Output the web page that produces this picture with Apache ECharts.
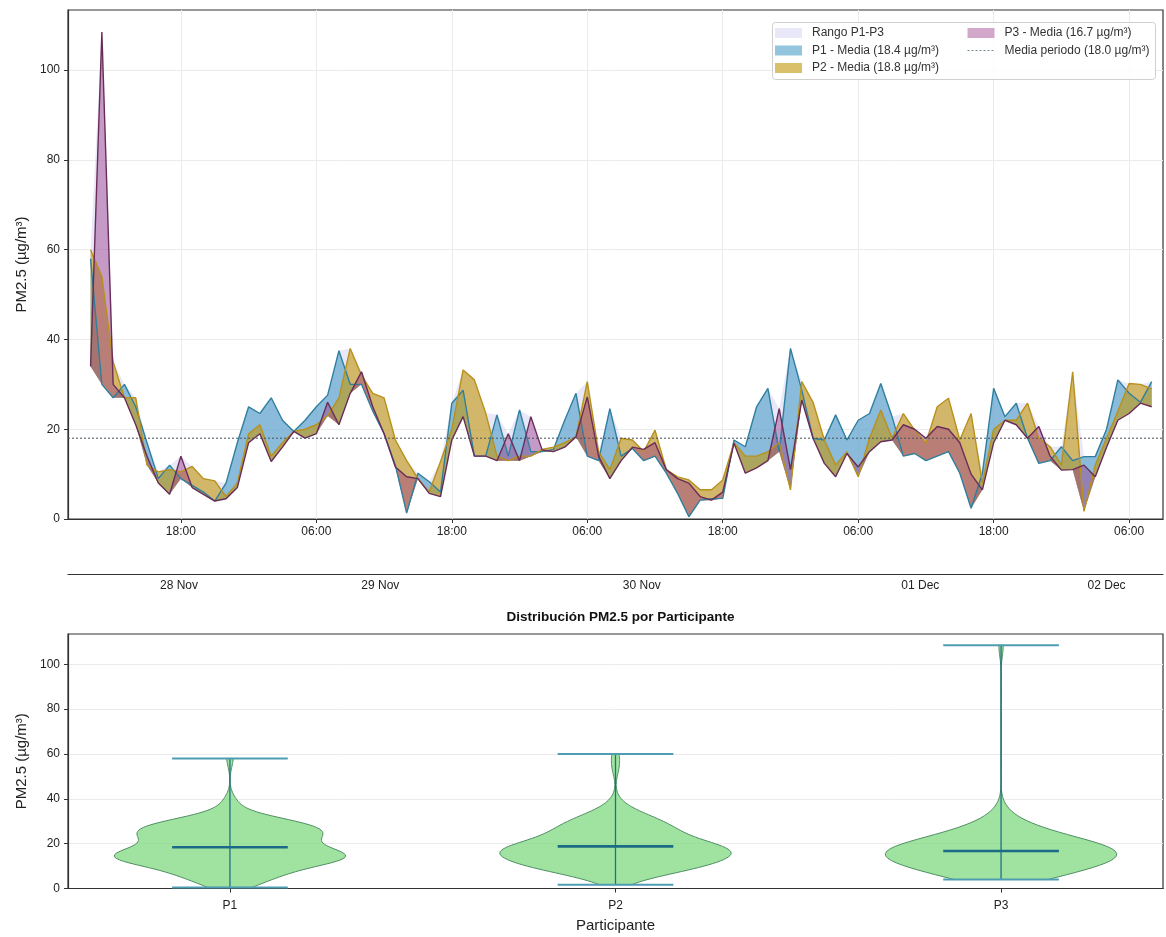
<!DOCTYPE html>
<html>
<head>
<meta charset="utf-8">
<script src="https://cdn.jsdelivr.net/npm/echarts@6/dist/echarts.min.js"></script>
<style>
  html, body { margin: 0; padding: 0; background: #ffffff; }
  #chart { width: 1166px; height: 937px; }
</style>
</head>
<body>
<div id="chart"></div>
<script>
// Hourly PM2.5 readings of three participants, 28 Nov 10:00 to 02 Dec 08:00
const sampleStart = '2024-11-28 10:00';
const sampleStepHours = 1;

const p1Values = [
  58, 30, 27, 30, 25, 17, 9, 12, 9, 7.5,
  6, 4, 8, 17, 25, 23.5, 27, 22, 19.5, 22,
  25, 27.6, 37.5, 30, 30, 24, 19, 12, 1.3, 10.2,
  8.3, 6, 25.8, 28.7, 14, 14, 23.2, 14, 24.3, 15,
  15, 15.5, 22, 28, 14, 13, 24.6, 14, 15.7, 13,
  14, 10.2, 5.7, 0.5, 4.2, 4.5, 4.6, 17.6, 16.1, 25,
  29.1, 15, 38, 28.7, 18, 17.6, 23.2, 17.6, 22, 23.5,
  30.2, 22.8, 14, 14.6, 13, 14, 15, 10.2, 2.4, 10.2,
  29.1, 22.8, 25.8, 18, 12.4, 13, 16.1, 13, 13.9, 13.9,
  20, 31, 28, 26, 30.6
];
const p2Values = [
  60, 54, 35, 27, 27, 12, 10.5, 11, 10.5, 11.7,
  9, 8.5, 5, 8, 19, 21, 14, 17, 19.5, 20,
  21, 23, 27, 38, 32, 28, 27, 17.6, 13, 9,
  6, 12.8, 20, 33.2, 31, 23.6, 14, 13, 14, 14,
  15.5, 16, 17, 18.3, 30.6, 15, 11, 18, 17.6, 15,
  19.8, 11, 9.4, 8.7, 6.5, 6.5, 8.7, 17, 14, 14,
  15, 17, 6.5, 30.6, 26, 17.6, 12, 15, 9.4, 18,
  24.3, 18, 23.5, 19.8, 16.9, 25, 26.9, 17.6, 23.5, 8,
  20, 22, 22, 25.8, 18, 16.1, 12, 32.8, 1.7, 12,
  18, 24, 30.2, 30, 29
];
const p3Values = [
  34, 108.5, 30, 27, 21, 14, 8, 5.5, 14, 7,
  5.5, 4, 4.5, 7, 17, 19, 12.8, 16, 19.5, 18,
  19, 26, 21, 28, 32.8, 25, 19, 11.6, 9.4, 9,
  5.7, 5, 17.6, 22.8, 14, 14, 13, 19, 13, 22.8,
  15.4, 15, 16, 18.3, 27.2, 14, 9, 13, 16, 15.5,
  17, 11, 9, 8, 5, 4.2, 6, 16.9, 10.2, 11.4,
  13, 24.6, 11, 26.5, 18, 12.4, 9.4, 14.6, 11.6, 15,
  17.2, 17.6, 21, 20, 18, 20.6, 20, 17, 10, 6.5,
  17, 22, 21, 18, 20.6, 14, 10.9, 11, 12, 9.4,
  16, 22, 23.5, 25.8, 25
];

const participants = ['P1', 'P2', 'P3'];
const participantMeans = [18.4, 18.8, 16.7];
const periodMean = 18.0;

// Time axis extent and tick labels
const timeAxisMin = '2024-11-28 08:00';
const timeAxisMax = '2024-12-02 09:00';
const hourTicks = [
  '2024-11-28 18:00', '2024-11-29 06:00', '2024-11-29 18:00', '2024-11-30 06:00',
  '2024-11-30 18:00', '2024-12-01 06:00', '2024-12-01 18:00', '2024-12-02 06:00'
];
const dayTicks = [
  '2024-11-28 17:50', '2024-11-29 11:40', '2024-11-30 10:50', '2024-12-01 11:30', '2024-12-02 04:00'
];
const monthNames = ['Jan', 'Feb', 'Mar', 'Apr', 'May', 'Jun', 'Jul', 'Aug', 'Sep', 'Oct', 'Nov', 'Dec'];

const pm25Ticks = [0, 20, 40, 60, 80, 100];

// ---- helpers ----
function parseTime(s) {
  const [d, hm] = s.split(' ');
  const [Y, M, D] = d.split('-').map(Number);
  const [h, m] = hm.split(':').map(Number);
  return new Date(Y, M - 1, D, h, m).getTime();
}
const pad = n => (n < 10 ? '0' : '') + n;

const t0 = parseTime(sampleStart);
const times = p1Values.map((_, i) => t0 + i * sampleStepHours * 3600 * 1000);
const seriesValues = [p1Values, p2Values, p3Values];
const lowValues = times.map((_, i) => Math.min(p1Values[i], p2Values[i], p3Values[i]));
const highValues = times.map((_, i) => Math.max(p1Values[i], p2Values[i], p3Values[i]));

const fillColors = ['rgba(60,150,195,0.55)', 'rgba(195,150,10,0.6)', 'rgba(155,60,135,0.45)'];
const lineColors = ['#2f7f9f', '#b8901a', '#6a2c58'];
const rangeColor = 'rgba(205,205,242,0.45)';
const meanLineColor = '#44525a';

const legendNames = participants.map((p, i) => `${p} - Media (${participantMeans[i].toFixed(1)} µg/m³)`);
const rangeName = 'Rango P1-P3';
const periodName = `Media periodo (${periodMean.toFixed(1)} µg/m³)`;

const FONT = 'Liberation Sans, Arial, Helvetica, sans-serif';

// ---- top chart series ----
const topSeries = [];
// gridlines at the hour ticks, drawn beneath everything
topSeries.push({
  type: 'line', name: 'gridlines', xAxisIndex: 0, yAxisIndex: 0, data: [], silent: true, z: 1,
  markLine: {
    silent: true, symbol: ['none', 'none'], z: 1, animation: false,
    label: { show: false },
    lineStyle: { color: '#ebebeb', width: 1, type: 'solid' },
    data: hourTicks.map(s => ({ xAxis: parseTime(s) }))
  }
});

// filled band between two value arrays, projected through the axes
function bandSeries(lowArr, highArr, name, color) {
  return {
    type: 'custom', name: name, xAxisIndex: 0, yAxisIndex: 0, silent: true, z: 2,
    clip: true,
    itemStyle: { color: color },
    encode: { x: 0, y: 1 },
    data: [[times[0], lowArr[0]]],
    renderItem: (params, api) => {
      const pts = [];
      for (let i = 0; i < times.length; i++) pts.push(api.coord([times[i], highArr[i]]));
      for (let i = times.length - 1; i >= 0; i--) pts.push(api.coord([times[i], lowArr[i]]));
      return { type: 'polygon', shape: { points: pts }, style: { fill: color, stroke: null } };
    }
  };
}

topSeries.push(bandSeries(lowValues, highValues, rangeName, rangeColor));
seriesValues.forEach((vals, i) => {
  topSeries.push(bandSeries(lowValues, vals, legendNames[i], fillColors[i]));
});
seriesValues.forEach((vals, i) => {
  topSeries.push({
    type: 'line', name: participants[i] + ' serie', xAxisIndex: 0, yAxisIndex: 0,
    data: times.map((t, k) => [t, vals[k]]),
    symbol: 'none', lineStyle: { color: lineColors[i], width: 1.4 },
    silent: true, z: 3, emphasis: { disabled: true }
  });
});
topSeries.push({
  type: 'line', name: periodName, xAxisIndex: 0, yAxisIndex: 0,
  data: [[parseTime(timeAxisMin), periodMean], [parseTime(timeAxisMax), periodMean]],
  symbol: 'none', lineStyle: { color: meanLineColor, width: 1, type: [2, 2] },
  itemStyle: { color: meanLineColor },
  silent: true, z: 4, emphasis: { disabled: true }
});

// ---- violin shapes (Gaussian KDE, Scott bandwidth) ----
function violinShape(vals) {
  const n = vals.length;
  const mean = vals.reduce((a, b) => a + b, 0) / n;
  const sd = Math.sqrt(vals.reduce((a, b) => a + (b - mean) * (b - mean), 0) / (n - 1));
  const bw = sd * Math.pow(n, -1 / 5);
  const lo = Math.min(...vals), hi = Math.max(...vals);
  const ys = [], dens = [];
  const steps = 100;
  for (let k = 0; k < steps; k++) {
    const y = lo + (hi - lo) * k / (steps - 1);
    let s = 0;
    for (const v of vals) { const z = (y - v) / bw; s += Math.exp(-0.5 * z * z); }
    ys.push(y); dens.push(s);
  }
  const dmax = Math.max(...dens);
  return { ys, hw: dens.map(d => 0.3 * d / dmax), lo, hi };
}
const violins = seriesValues.map(violinShape);

function renderViolin(params, api) {
  const i = params.dataIndex;
  const pos = api.value(0);
  const v = violins[i];
  const pts = [];
  for (let k = 0; k < v.ys.length; k++) pts.push(api.coord([pos + v.hw[k], v.ys[k]]));
  for (let k = v.ys.length - 1; k >= 0; k--) pts.push(api.coord([pos - v.hw[k], v.ys[k]]));
  const seg = (x1, y1, x2, y2, style) => {
    const a = api.coord([x1, y1]), b = api.coord([x2, y2]);
    return { type: 'line', shape: { x1: a[0], y1: a[1], x2: b[0], y2: b[1] }, style: style };
  };
  const capStyle = { stroke: '#4f9db3', lineWidth: 2 };
  return {
    type: 'group',
    children: [
      { type: 'polygon', shape: { points: pts }, style: { fill: 'rgba(128,218,128,0.75)', stroke: '#4f8f63', lineWidth: 1 } },
      seg(pos, v.lo, pos, v.hi, { stroke: '#1f7088', lineWidth: 1.3 }),
      seg(pos - 0.15, v.lo, pos + 0.15, v.lo, capStyle),
      seg(pos - 0.15, v.hi, pos + 0.15, v.hi, capStyle),
      seg(pos - 0.15, participantMeans[i], pos + 0.15, participantMeans[i], { stroke: '#1b6a86', lineWidth: 2.6 })
    ]
  };
}

const axisLineStyle = { color: '#333333', width: 1.2 };
const tickStyle = { color: '#333333', width: 1 };
const labelStyle = { color: '#222222', fontSize: 12, fontFamily: FONT };
const nameStyle = { color: '#222222', fontSize: 15, fontFamily: FONT };
const legendText = { fontSize: 12, color: '#333333', fontFamily: FONT, padding: [0, 0, 0, 5] };

const option = {
  animation: false,
  backgroundColor: '#ffffff',
  textStyle: { fontFamily: FONT },
  title: {
    text: 'Distribución PM2.5 por Participante',
    left: 615.5, top: 605, textAlign: 'center',
    textStyle: { fontSize: 13.5, fontWeight: 'bold', color: '#111111', fontFamily: FONT }
  },
  grid: [
    { left: 68, right: 3, top: 10, height: 509, show: true, borderColor: '#333333', borderWidth: 1.2, backgroundColor: 'transparent' },
    { left: 68, right: 3, top: 634, height: 254.5, show: true, borderColor: '#333333', borderWidth: 1.2, backgroundColor: 'transparent' }
  ],
  legend: [
    {
      left: 775, top: 27, orient: 'vertical', itemGap: 5.5, itemWidth: 27, itemHeight: 10, padding: 0, z: 20,
      selectedMode: false,
      textStyle: legendText,
      data: [
        { name: rangeName, icon: 'rect', itemStyle: { color: rangeColor } },
        { name: legendNames[0], icon: 'rect', itemStyle: { color: fillColors[0] } },
        { name: legendNames[1], icon: 'rect', itemStyle: { color: fillColors[1] } }
      ]
    },
    {
      left: 967, top: 27, orient: 'vertical', itemGap: 5.5, itemWidth: 27, itemHeight: 10, padding: 0, z: 20,
      selectedMode: false,
      textStyle: legendText,
      data: [
        { name: legendNames[2], icon: 'rect', itemStyle: { color: fillColors[2] } },
        {
          name: periodName,
          itemStyle: { opacity: 0 },
          lineStyle: { color: '#6f8a92', width: 1, type: [2, 2], opacity: 1 }
        }
      ]
    }
  ],
  graphic: [
    {
      type: 'rect', left: 772, top: 22, z: 15,
      shape: { width: 383, height: 57, r: 3 },
      style: { fill: 'rgba(255,255,255,0.85)', stroke: '#cfcfcf', lineWidth: 1 }
    }
  ],
  xAxis: [
    {
      type: 'value', gridIndex: 0,
      min: parseTime(timeAxisMin), max: parseTime(timeAxisMax),
      axisLine: { show: true, lineStyle: axisLineStyle },
      axisTick: { show: true, length: 4, lineStyle: tickStyle, customValues: hourTicks.map(parseTime) },
      axisLabel: {
        ...labelStyle, margin: 7,
        customValues: hourTicks.map(parseTime),
        formatter: v => { const d = new Date(v); return pad(d.getHours()) + ':' + pad(d.getMinutes()); }
      },
      splitLine: { show: false }
    },
    {
      type: 'value', gridIndex: 0, position: 'bottom', offset: 55,
      min: parseTime(timeAxisMin), max: parseTime(timeAxisMax),
      axisLine: { show: true, lineStyle: axisLineStyle },
      axisTick: { show: false },
      axisLabel: {
        ...labelStyle, margin: 6,
        customValues: dayTicks.map(parseTime),
        formatter: v => { const d = new Date(v); return pad(d.getDate()) + ' ' + monthNames[d.getMonth()]; }
      },
      splitLine: { show: false }
    },
    {
      type: 'value', gridIndex: 1, min: 0.58, max: 3.42,
      name: 'Participante', nameLocation: 'middle', nameGap: 30, nameTextStyle: nameStyle,
      axisLine: { show: true, lineStyle: axisLineStyle },
      axisTick: { show: true, length: 4, lineStyle: tickStyle, customValues: [1, 2, 3] },
      axisLabel: { ...labelStyle, margin: 11, customValues: [1, 2, 3], formatter: v => participants[Math.round(v) - 1] },
      splitLine: { show: false }
    }
  ],
  yAxis: [
    {
      type: 'value', gridIndex: 0, min: 0, max: 113.4, interval: 20,
      name: 'PM2.5 (µg/m³)', nameLocation: 'middle', nameGap: 37, nameTextStyle: nameStyle,
      axisLine: { show: true, lineStyle: axisLineStyle },
      axisTick: { show: true, length: 4, lineStyle: tickStyle, customValues: pm25Ticks },
      axisLabel: { ...labelStyle, margin: 8, customValues: pm25Ticks },
      splitLine: { show: true, lineStyle: { color: '#ebebeb', width: 1 } }
    },
    {
      type: 'value', gridIndex: 1, min: 0, max: 113.5, interval: 20,
      name: 'PM2.5 (µg/m³)', nameLocation: 'middle', nameGap: 37, nameTextStyle: nameStyle,
      axisLine: { show: true, lineStyle: axisLineStyle },
      axisTick: { show: true, length: 4, lineStyle: tickStyle, customValues: pm25Ticks },
      axisLabel: { ...labelStyle, margin: 8, customValues: pm25Ticks },
      splitLine: { show: true, lineStyle: { color: '#ebebeb', width: 1 } }
    }
  ],
  series: [
    ...topSeries,
    {
      type: 'custom', name: 'violines', xAxisIndex: 2, yAxisIndex: 1,
      renderItem: renderViolin, silent: true, z: 3,
      data: participants.map((p, i) => [i + 1, participantMeans[i]])
    }
  ]
};

const chart = echarts.init(document.getElementById('chart'), null, { renderer: 'canvas' });
chart.setOption(option);
</script>
</body>
</html>
